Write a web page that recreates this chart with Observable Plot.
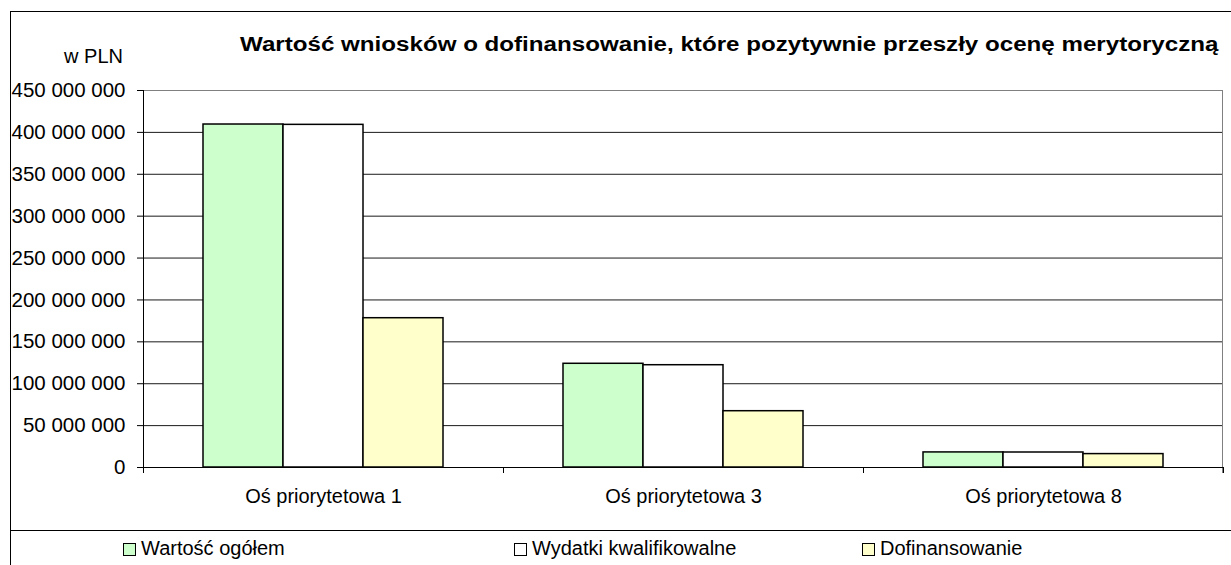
<!DOCTYPE html>
<html>
<head>
<meta charset="utf-8">
<script src="https://cdn.jsdelivr.net/npm/d3@7"></script>
<script src="https://cdn.jsdelivr.net/npm/@observablehq/plot@0.6"></script>
<style>
  html, body { margin: 0; padding: 0; background: #fff; overflow: hidden; }
  #wrap { position: relative; width: 1231px; height: 565px; overflow: hidden; font-family: "Liberation Sans", Arial, sans-serif; }
  #outer { position: absolute; left: 10px; top: 11px; width: 1400px; height: 700px; border: 1px solid #000; box-sizing: border-box; }
  #chart { position: absolute; left: 0; top: 0; }
  #head { position: absolute; left: 0; top: 0; }
  #sep { position: absolute; left: 10px; top: 530px; width: 1300px; border-top: 1px solid #000; }
  .li { position: absolute; top: 536px; height: 24px; display: flex; align-items: center; font-size: 20px; color: #000; white-space: nowrap; }
  .sw { width: 11px; height: 11px; border: 1px solid #000; margin-right: 5px; margin-top: 2px; }
</style>
</head>
<body>
<div id="wrap">
  <div id="outer"></div>
  <div id="chart"></div>
  <svg id="head" width="1231" height="80"></svg>
  <div id="sep"></div>
  <div id="legend"></div>
</div>
<script>
// ---- data ----
const categories = ["Oś priorytetowa 1", "Oś priorytetowa 3", "Oś priorytetowa 8"];
const series = ["Wartość ogółem", "Wydatki kwalifikowalne", "Dofinansowanie"];
const wartoscOgolem = [409400000, 123800000, 18000000];
const wydatkiKwalifikowalne = [409000000, 122100000, 17900000];
const dofinansowanie = [178200000, 67200000, 16000000];
const yTicks = [0, 50000000, 100000000, 150000000, 200000000, 250000000, 300000000, 350000000, 400000000, 450000000];
const seriesColors = ["#ccffcc", "#ffffff", "#ffffcc"];
const titleText = "Wartość wniosków o dofinansowanie, które pozytywnie przeszły ocenę merytoryczną";
const unitText = "w PLN";

const valuesBySeries = [wartoscOgolem, wydatkiKwalifikowalne, dofinansowanie];
const table = categories.flatMap((c, i) => series.map((s, j) => ({category: c, series: s, value: valuesBySeries[j][i]})));

const fmt = d => d3.format(",")(d).replace(/,/g, " ");

const frameMark = Plot.frame({
  facet: "super",
  stroke: "none",
  render(index, scales, values, dims) {
    const {y, fx} = scales;
    const g = d3.create("svg:g");
    const left = dims.marginLeft, right = dims.width - dims.marginRight, top = dims.marginTop;
    const y0 = y(0);
    // plot area border (top / right), gray
    g.append("line").attr("x1", left).attr("x2", right).attr("y1", top + 0.5).attr("y2", top + 0.5).attr("stroke", "#808080");
    g.append("line").attr("x1", right - 0.5).attr("x2", right - 0.5).attr("y1", top).attr("y2", y0 + 6).attr("stroke", "#808080");
    // axis lines
    g.append("line").attr("x1", left).attr("x2", right).attr("y1", y0 + 0.5).attr("y2", y0 + 0.5).attr("stroke", "#000");
    g.append("line").attr("x1", left + 0.5).attr("x2", left + 0.5).attr("y1", top).attr("y2", y0 + 6).attr("stroke", "#000");
    // category boundary ticks
    const bw = fx.bandwidth();
    const bounds = categories.map(c => fx(c)).concat([fx(categories[categories.length - 1]) + bw]);
    for (const b of bounds) {
      g.append("line").attr("x1", b + 0.5).attr("x2", b + 0.5).attr("y1", y0).attr("y2", y0 + 6).attr("stroke", "#000");
    }
    return g.node();
  }
});

const chart = Plot.plot({
  width: 1231,
  height: 531,
  marginLeft: 143,
  marginRight: 8,
  marginTop: 90,
  marginBottom: 64,
  style: {fontFamily: "Liberation Sans, Arial, sans-serif", fontSize: "20px", color: "#000", background: "transparent"},
  fx: {domain: categories, padding: 0, label: null, axis: null},
  x: {domain: series, paddingInner: 0, paddingOuter: 0.75, axis: null},
  y: {domain: [0, 450000000], label: null},
  color: {domain: series, range: seriesColors},
  marks: [
    Plot.gridY(yTicks.slice(0, -1), {stroke: "#000", strokeOpacity: 0.9}),
    Plot.barY(table, {fx: "category", x: "series", y: "value", fill: "series", stroke: "#000", strokeWidth: 1.5}),
    Plot.axisY({ticks: yTicks, tickFormat: fmt, tickSize: 6, tickPadding: 12, fontSize: 20.5, label: null}),
    Plot.axisFx({anchor: "bottom", tickSize: 0, tickPadding: 21, fontSize: 20, label: null}),
    frameMark
  ]
});
document.getElementById("chart").appendChild(chart);

// title + unit label
const head = d3.select("#head");
head.append("text").attr("x", 123).attr("y", 63).attr("text-anchor", "end")
  .attr("font-family", "Liberation Sans, Arial, sans-serif").attr("font-size", 20).text(unitText);
const title = head.append("text").attr("x", 0).attr("y", 0)
  .attr("font-family", "Liberation Sans, Arial, sans-serif").attr("font-size", 20.5).attr("font-weight", "bold")
  .text(titleText);
const natural = title.node().getComputedTextLength() || 979;
title.attr("transform", `translate(240,51) scale(${979 / natural},1)`);

// legend
const legendLefts = [123, 514, 862];
const legend = d3.select("#legend");
series.forEach((s, i) => {
  const item = legend.append("div").attr("class", "li").style("left", legendLefts[i] + "px");
  item.append("div").attr("class", "sw").style("background", seriesColors[i]);
  item.append("span").text(s);
});
</script>
</body>
</html>
